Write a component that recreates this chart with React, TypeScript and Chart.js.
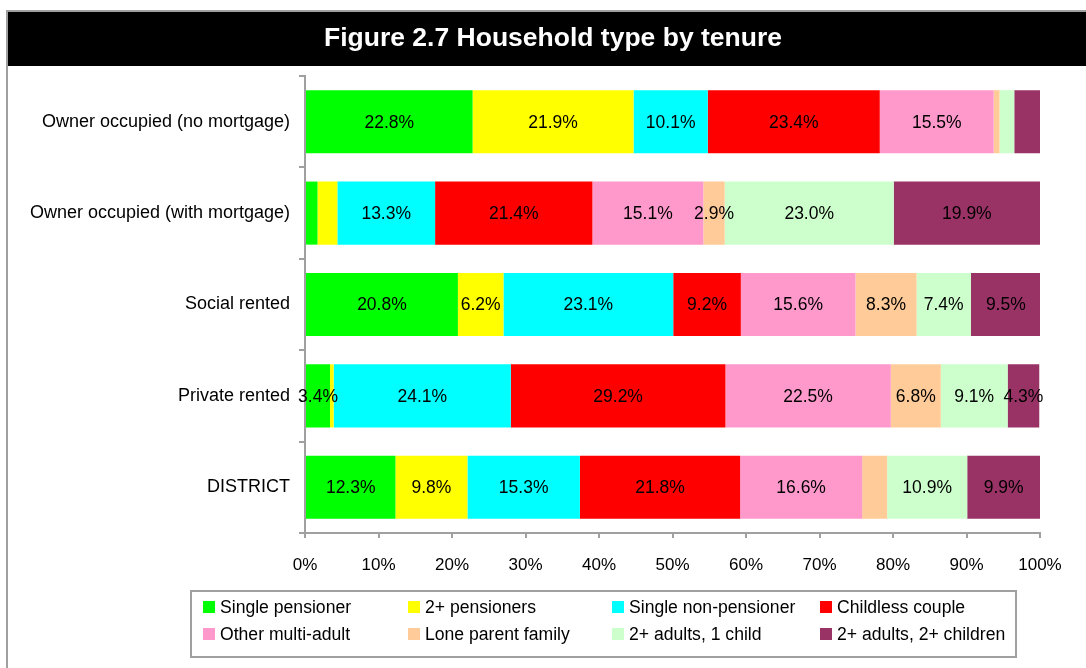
import React, { useEffect, useRef } from "react";
import { Chart, registerables } from "chart.js";

Chart.register(...registerables);

const FONT = "'Liberation Sans', Arial, sans-serif";

const chartTitle = "Figure 2.7 Household type by tenure";
const categories = [
  "Owner occupied (no mortgage)",
  "Owner occupied (with mortgage)",
  "Social rented",
  "Private rented",
  "DISTRICT",
];
const seriesNames = [
  "Single pensioner",
  "2+ pensioners",
  "Single non-pensioner",
  "Childless couple",
  "Other multi-adult",
  "Lone parent family",
  "2+ adults, 1 child",
  "2+ adults, 2+ children",
];
const seriesColors = [
  "#00FF00",
  "#FFFF00",
  "#00FFFF",
  "#FF0000",
  "#FF99CC",
  "#FFCC99",
  "#CCFFCC",
  "#993366",
];
const singlePensioner = [22.8, 1.7, 20.8, 3.4, 12.3];
const twoPlusPensioners = [21.9, 2.7, 6.2, 0.5, 9.8];
const singleNonPensioner = [10.1, 13.3, 23.1, 24.1, 15.3];
const childlessCouple = [23.4, 21.4, 9.2, 29.2, 21.8];
const otherMultiAdult = [15.5, 15.1, 15.6, 22.5, 16.6];
const loneParentFamily = [0.8, 2.9, 8.3, 6.8, 3.4];
const adultsOneChild = [2.0, 23.0, 7.4, 9.1, 10.9];
const adultsTwoPlusChildren = [3.5, 19.9, 9.5, 4.3, 9.9];
const seriesValues = [
  singlePensioner,
  twoPlusPensioners,
  singleNonPensioner,
  childlessCouple,
  otherMultiAdult,
  loneParentFamily,
  adultsOneChild,
  adultsTwoPlusChildren,
];
const xTickStep = 10;
const labelThreshold = 2.8;
// [seriesIndex, categoryIndex] of segments without a printed value
const hiddenLabels: [number, number][] = [
  [7, 0],
  [5, 4],
];

const AXIS_GREY = "#A0A0A0";

const framePlugin = {
  id: "frameAndTitle",
  beforeDraw(chart: any) {
    const ctx = chart.ctx;
    const w = chart.width;
    const h = chart.height;
    ctx.save();
    ctx.fillStyle = "#FFFFFF";
    ctx.fillRect(0, 0, w, h);
    ctx.strokeStyle = AXIS_GREY;
    ctx.lineWidth = 2;
    ctx.beginPath();
    ctx.moveTo(7, h);
    ctx.lineTo(7, 11);
    ctx.lineTo(w, 11);
    ctx.stroke();
    ctx.fillStyle = "#000000";
    ctx.fillRect(8, 12, w - 8, 54);
    ctx.fillStyle = "#FFFFFF";
    ctx.font = `bold 26.5px ${FONT}`;
    ctx.textAlign = "center";
    ctx.textBaseline = "middle";
    ctx.fillText(chartTitle, 553, 39);
    ctx.restore();
  },
};

const valueLabelPlugin = {
  id: "valueLabels",
  afterDatasetsDraw(chart: any) {
    const ctx = chart.ctx;
    ctx.save();
    ctx.fillStyle = "#000000";
    ctx.font = `17.5px ${FONT}`;
    ctx.textAlign = "center";
    ctx.textBaseline = "middle";
    chart.data.datasets.forEach((ds: any, di: number) => {
      const meta = chart.getDatasetMeta(di);
      meta.data.forEach((el: any, i: number) => {
        const v = ds.data[i];
        if (v < labelThreshold) return;
        if (hiddenLabels.some(([s, c]) => s === di && c === i)) return;
        const p = el.getProps(["x", "y", "base"], true);
        ctx.fillText(v.toFixed(1) + "%", (p.x + p.base) / 2, p.y + 1);
      });
    });
    ctx.restore();
  },
};

const legendPlugin = {
  id: "gridLegend",
  afterDraw(chart: any) {
    const ctx = chart.ctx;
    ctx.save();
    ctx.strokeStyle = AXIS_GREY;
    ctx.lineWidth = 2;
    ctx.strokeRect(191, 591, 825, 66);
    const colX = [203, 408, 612, 820];
    const rowY = [607, 634];
    ctx.font = `17.6px ${FONT}`;
    ctx.textAlign = "left";
    ctx.textBaseline = "middle";
    chart.data.datasets.forEach((ds: any, i: number) => {
      const col = i % 4;
      const row = Math.floor(i / 4);
      const x = colX[col];
      const y = rowY[row];
      ctx.fillStyle = ds.backgroundColor;
      ctx.fillRect(x, y - 6, 12, 12);
      ctx.fillStyle = "#000000";
      ctx.fillText(ds.label, x + 17, y + 1);
    });
    ctx.restore();
  },
};

export default function App() {
  const canvasRef = useRef<HTMLCanvasElement | null>(null);

  useEffect(() => {
    if (!canvasRef.current) return;
    Chart.defaults.font.family = FONT;
    const chart = new Chart(canvasRef.current, {
      type: "bar",
      data: {
        labels: categories,
        datasets: seriesNames.map((name, i) => ({
          label: name,
          data: seriesValues[i],
          backgroundColor: seriesColors[i],
          borderWidth: 0,
          barPercentage: 0.69,
          categoryPercentage: 1,
        })),
      },
      options: {
        indexAxis: "y",
        responsive: false,
        animation: false,
        devicePixelRatio: 1,
        layout: { padding: { top: 76, right: 46, left: 0, bottom: 0 } },
        plugins: {
          legend: { display: false },
          title: { display: false },
          tooltip: { enabled: false },
        },
        scales: {
          x: {
            stacked: true,
            min: 0,
            max: 100,
            ticks: {
              stepSize: xTickStep,
              callback: (v: any) => v + "%",
              color: "#000000",
              font: { size: 17, family: FONT },
              padding: 17,
              maxRotation: 0,
            },
            grid: {
              drawOnChartArea: false,
              drawTicks: true,
              tickLength: 5,
              color: AXIS_GREY,
              lineWidth: 2,
            },
            border: { display: true, color: AXIS_GREY, width: 2 },
            afterFit: (s: any) => {
              s.height = 135;
            },
          },
          y: {
            stacked: true,
            ticks: {
              color: "#000000",
              font: { size: 18, family: FONT },
              padding: 9,
            },
            grid: {
              drawOnChartArea: false,
              drawTicks: true,
              tickLength: 6,
              offset: true,
              color: AXIS_GREY,
              lineWidth: 2,
            },
            border: { display: true, color: AXIS_GREY, width: 2 },
            afterFit: (s: any) => {
              s.width = 305;
            },
          },
        },
      },
      plugins: [framePlugin, valueLabelPlugin, legendPlugin],
    } as any);
    return () => chart.destroy();
  }, []);

  return (
    <div
      style={{
        position: "fixed",
        left: 0,
        top: 0,
        width: 1086,
        height: 668,
        background: "#FFFFFF",
      }}
    >
      <canvas ref={canvasRef} width={1086} height={668} />
    </div>
  );
}
